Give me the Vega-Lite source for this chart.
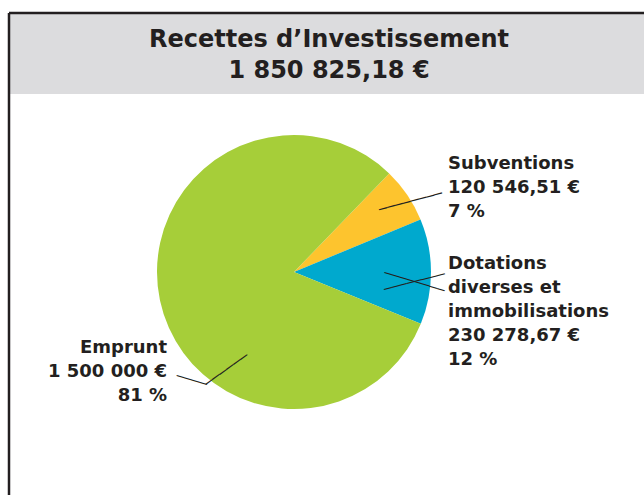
{
  "$schema": "https://vega.github.io/schema/vega-lite/v6.json",
  "padding": {"left": 7, "top": 11, "right": 0, "bottom": 0},
  "spacing": 0,
  "bounds": "flush",
  "background": "white",
  "config": {"view": {"stroke": null}, "font": "DejaVu Sans"},
  "datasets": {
    "recettes": [
      {"poste": "Subventions", "montant": 120546.51, "ordre": 1, "libelle": ["Subventions", "120 546,51 €", "7 %"]},
      {"poste": "Dotations diverses et immobilisations", "montant": 230278.67, "ordre": 2, "libelle": ["Dotations", "diverses et", "immobilisations", "230 278,67 €", "12 %"]},
      {"poste": "Emprunt", "montant": 1500000, "ordre": 3, "libelle": ["Emprunt", "1 500 000 €", "81 %"]}
    ]
  },
  "vconcat": [
    {
      "width": 640,
      "height": 81,
      "view": {"fill": "#dcdcde", "stroke": "#231f20", "strokeWidth": 2.5, "strokeDash": [640, 721, 81, 0]},
      "data": {"values": [{"titre": ["Recettes d’Investissement", "1 850 825,18 €"]}]},
      "mark": {"type": "text", "font": "DejaVu Sans", "fontWeight": "bold", "fontSize": 24, "lineHeight": 31, "color": "#231f20", "baseline": "alphabetic", "dy": -6.5},
      "encoding": {"text": {"field": "titre", "type": "nominal"}}
    },
    {
      "width": 570,
      "height": 356,
      "view": {"stroke": "#231f20", "strokeWidth": 2.5, "strokeDash": [0, 1496, 356, 0]},
      "data": {"name": "recettes"},
      "transform": [
        {"stack": "montant", "groupby": [], "sort": [{"field": "ordre", "order": "ascending"}], "as": ["debut", "fin"]}
      ],
      "encoding": {
        "theta": {"field": "debut", "type": "quantitative", "stack": null, "scale": {"domain": [0, 1850825.18], "range": [0.76794, 7.05113]}}
      },
      "layer": [
        {
          "mark": {"type": "arc", "radius": 137},
          "encoding": {
            "theta2": {"field": "fin"},
            "color": {"field": "poste", "type": "nominal", "legend": null,
              "scale": {"domain": ["Subventions", "Dotations diverses et immobilisations", "Emprunt"], "range": ["#fdc42e", "#00a9ce", "#a6ce39"]}}
          }
        },
        {
          "transform": [{"filter": {"field": "poste", "equal": "Subventions"}}],
          "mark": {"type": "text", "radius": 185.3, "thetaOffset": 0.2133, "align": "left", "baseline": "alphabetic", "font": "DejaVu Sans", "fontWeight": "bold", "fontSize": 18, "lineHeight": 24, "color": "#231f20"},
          "encoding": {"text": {"field": "libelle", "type": "nominal"}}
        },
        {
          "transform": [{"filter": {"field": "poste", "equal": "Dotations diverses et immobilisations"}}],
          "mark": {"type": "text", "radius": 154.0, "thetaOffset": 0.3741, "align": "left", "baseline": "alphabetic", "font": "DejaVu Sans", "fontWeight": "bold", "fontSize": 18, "lineHeight": 24, "color": "#231f20"},
          "encoding": {"text": {"field": "libelle", "type": "nominal"}}
        },
        {
          "transform": [{"filter": {"field": "poste", "equal": "Emprunt"}}],
          "mark": {"type": "text", "radius": 150.6, "thetaOffset": 2.1858, "align": "right", "baseline": "alphabetic", "font": "DejaVu Sans", "fontWeight": "bold", "fontSize": 18, "lineHeight": 24, "color": "#231f20"},
          "encoding": {"text": {"field": "libelle", "type": "nominal"}}
        },
        {
          "transform": [{"filter": {"field": "poste", "equal": "Subventions"}}],
          "mark": {"type": "text", "radius": 136.1, "thetaOffset": 0.2625, "angle": -14.8, "align": "center", "baseline": "middle", "font": "DejaVu Sans", "fontSize": 13.5, "color": "#231f20"},
          "encoding": {"text": {"value": "────────"}}
        },
        {
          "transform": [{"filter": {"field": "poste", "equal": "Dotations diverses et immobilisations"}}],
          "mark": {"type": "text", "radius": 120.9, "thetaOffset": 0.4763, "angle": 17, "align": "center", "baseline": "middle", "font": "DejaVu Sans", "fontSize": 13, "color": "#231f20"},
          "encoding": {"text": {"value": "────────"}}
        },
        {
          "transform": [{"filter": {"field": "poste", "equal": "Dotations diverses et immobilisations"}}],
          "mark": {"type": "text", "radius": 120.9, "thetaOffset": 0.4763, "angle": -14.4, "align": "center", "baseline": "middle", "font": "DejaVu Sans", "fontSize": 13, "color": "#231f20"},
          "encoding": {"text": {"value": "────────"}}
        },
        {
          "transform": [{"filter": {"field": "poste", "equal": "Emprunt"}}],
          "mark": {"type": "text", "radius": 149.0, "thetaOffset": 1.9394, "angle": 16.5, "align": "center", "baseline": "middle", "font": "DejaVu Sans", "fontSize": 13, "color": "#231f20"},
          "encoding": {"text": {"value": "────"}}
        },
        {
          "transform": [{"filter": {"field": "poste", "equal": "Emprunt"}}],
          "mark": {"type": "text", "radius": 118.7, "thetaOffset": 1.7824, "angle": -35.4, "align": "center", "baseline": "middle", "font": "DejaVu Sans", "fontSize": 14, "color": "#231f20"},
          "encoding": {"text": {"value": "──────"}}
        }
      ]
    },
    {
      "width": 640,
      "height": 50,
      "view": {"stroke": "#231f20", "strokeWidth": 2.5, "strokeDash": [0, 1330, 50, 0]},
      "data": {"values": [{"vide": ""}]},
      "mark": {"type": "text"},
      "encoding": {"text": {"field": "vide", "type": "nominal"}}
    }
  ]
}
